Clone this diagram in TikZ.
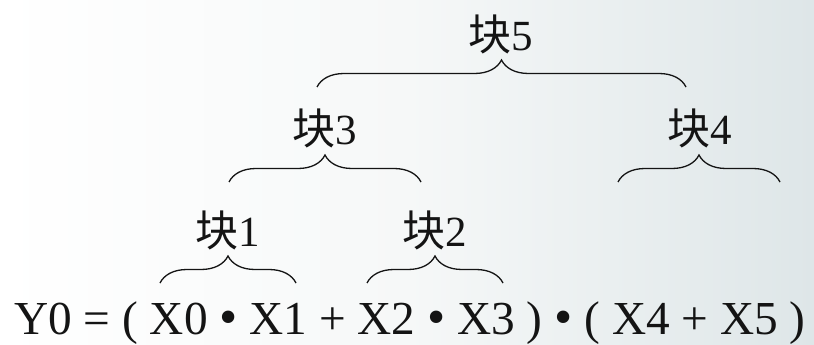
\documentclass[tikz,border=0pt]{standalone}
\usepackage{fontspec}
\setmainfont{Liberation Serif}
\newfontfamily\cjk{Noto Sans CJK SC}
\usetikzlibrary{decorations.pathreplacing}
\definecolor{bgright}{RGB}{222,230,232}
\definecolor{bgmid}{RGB}{246,248,248}
\definecolor{ink}{RGB}{20,20,20}
\newcommand{\bul}{{\fontsize{52}{52}\selectfont •}}
\tikzset{
  lbl/.style={inner sep=0pt, font=\fontsize{43}{46}\selectfont, text=ink},
  brc/.style={draw=ink, line width=1.3pt, decorate, decoration={brace, amplitude=27pt}},
  eqn/.style={inner sep=0pt, font=\fontsize{47.3}{52}\selectfont, text=ink, anchor=base west}
}
\begin{document}
\begin{tikzpicture}[x=1pt,y=-1pt]
\shade[left color=white, right color=bgright, middle color=bgmid] (0,0) rectangle (814,345);
\useasboundingbox (0,0) rectangle (814,345);
% equation
\node[eqn] (eq) at (14,334) {Y0 = ( X0 \bul{} X1 + X2 \bul{} X3 ) \bul{} ( X4 + X5 )};
% brace end points
\coordinate (b1l) at (160,283); \coordinate (b1r) at (296,283);
\coordinate (b2l) at (367,283); \coordinate (b2r) at (503,283);
\coordinate (b3l) at (229,182); \coordinate (b3r) at (421,182);
\coordinate (b4l) at (618,182); \coordinate (b4r) at (780,182);
\coordinate (b5l) at (317,87);  \coordinate (b5r) at (686,87);
% labels
\node[lbl] (k1) at (228,230) {{\cjk 块}1};
\node[lbl] (k2) at (435,230) {{\cjk 块}2};
\node[lbl] (k3) at (325,128) {{\cjk 块}3};
\node[lbl] (k4) at (700,128) {{\cjk 块}4};
\node[lbl] (k5) at (501,34) {{\cjk 块}5};
% braces
\draw[brc] (b1l) -- (b1r);
\draw[brc] (b2l) -- (b2r);
\draw[brc] (b3l) -- (b3r);
\draw[brc] (b4l) -- (b4r);
\draw[brc] (b5l) -- (b5r);
\end{tikzpicture}
\end{document}
